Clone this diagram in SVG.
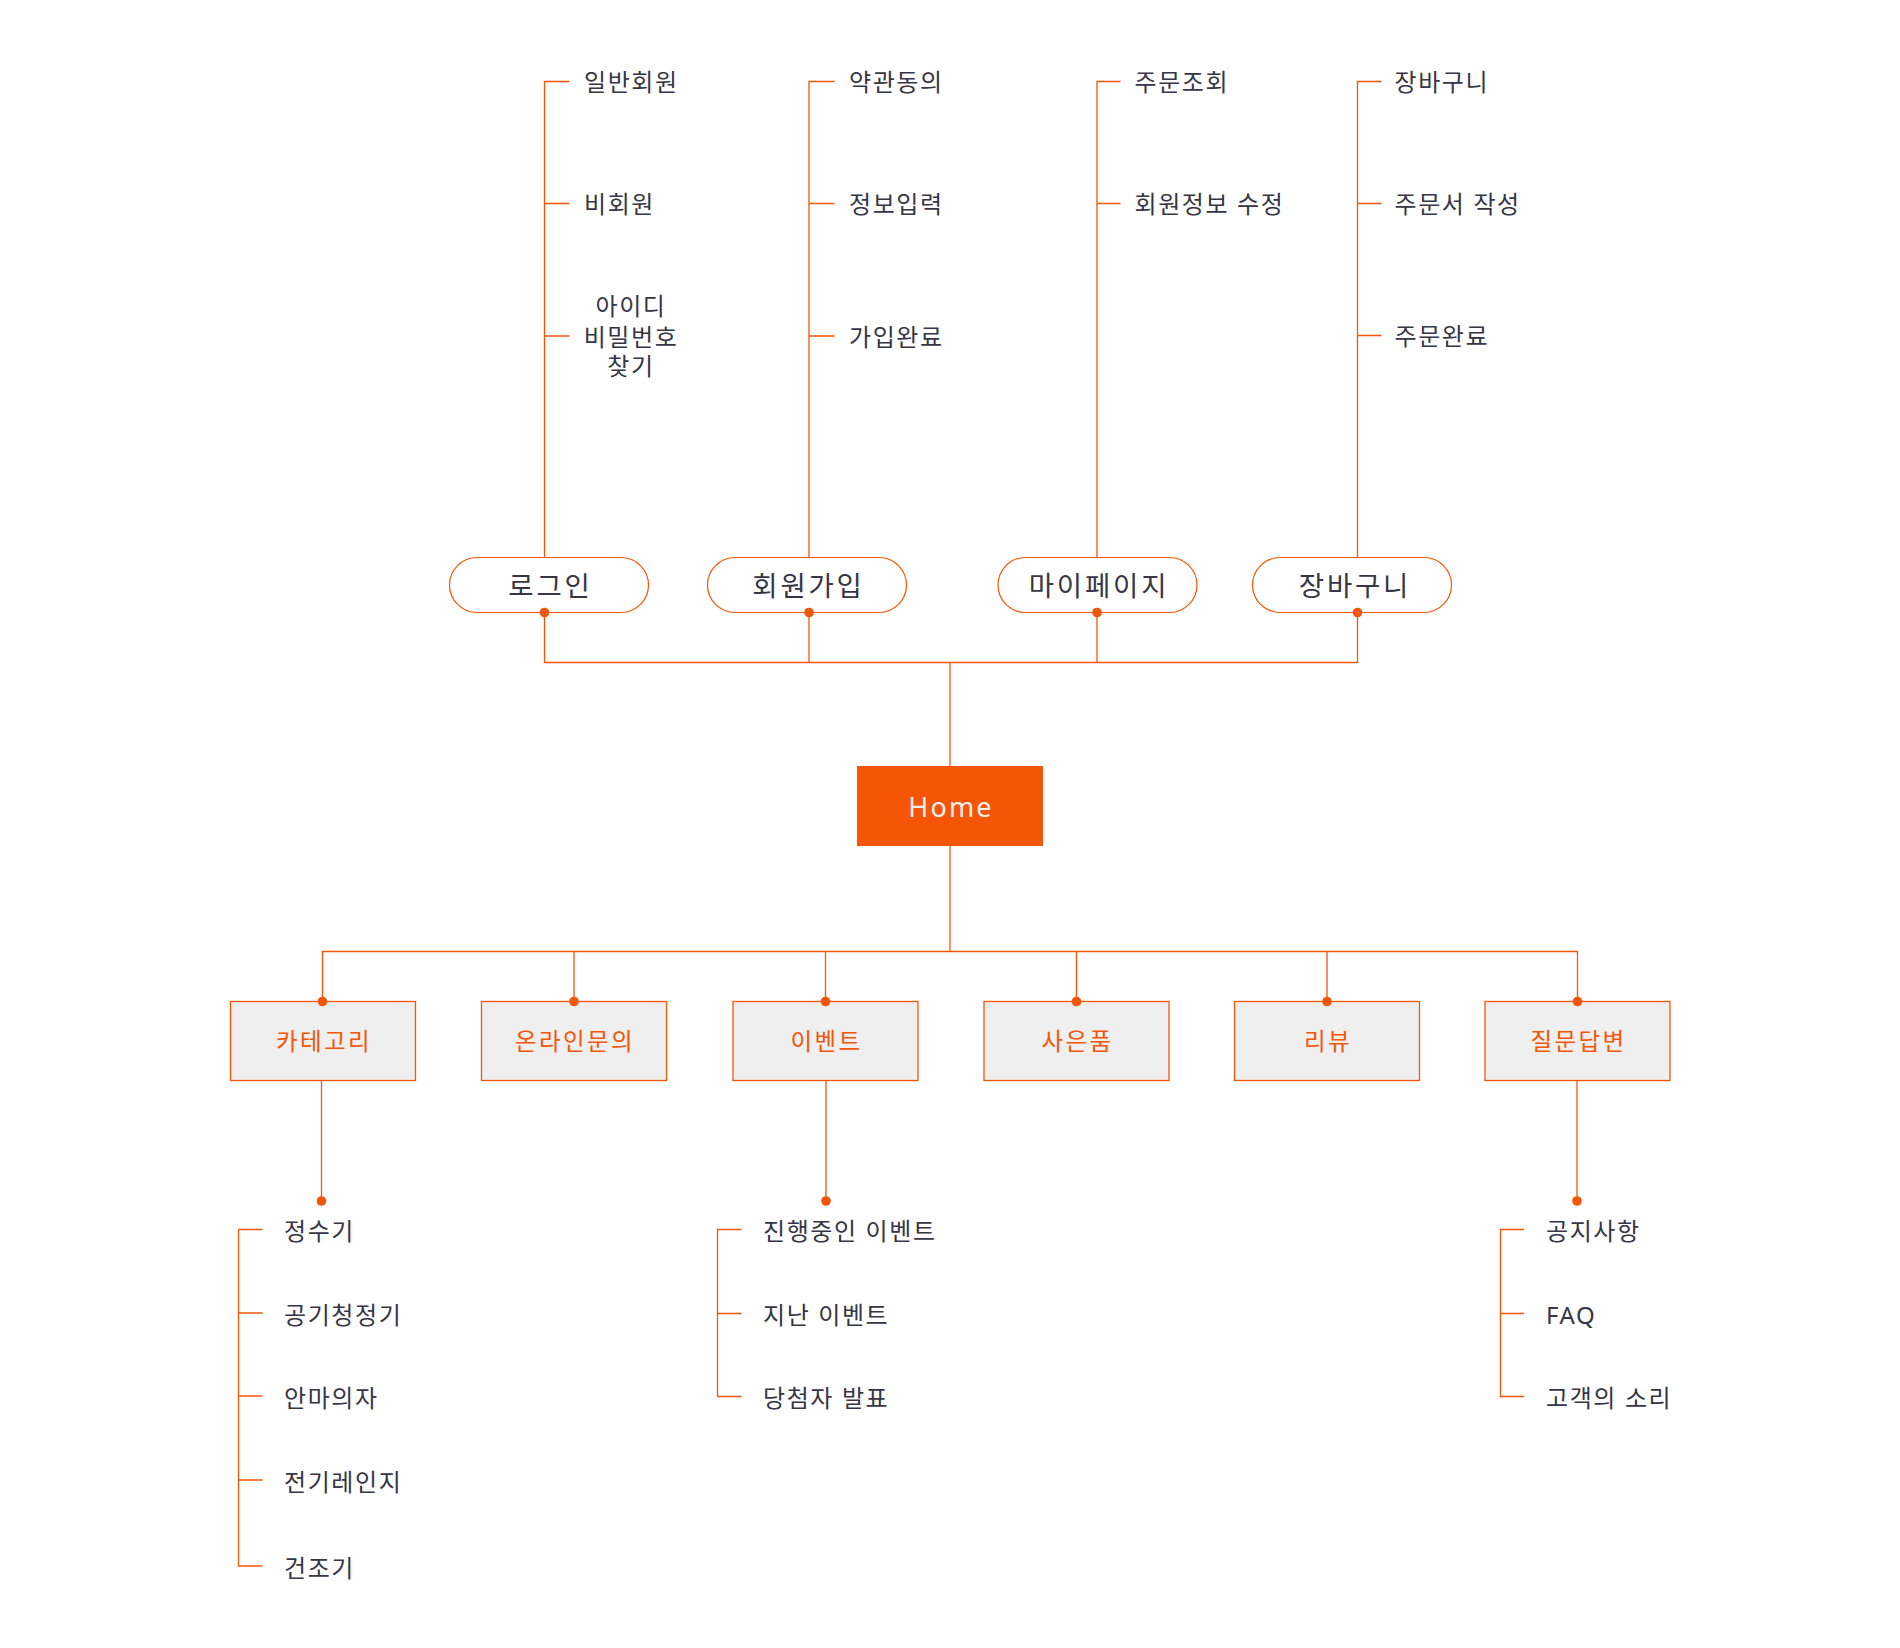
<svg xmlns="http://www.w3.org/2000/svg" width="1900" height="1648" viewBox="0 0 1900 1648">
<defs>
<style>
.ln{fill:none;stroke:#f45606;stroke-width:1.3}
.dot{fill:#f45606}
.pill{fill:#ffffff;stroke:#f45606;stroke-width:1.2}
.box{fill:#efefef;stroke:#f45606;stroke-width:1.3}
.home{fill:#f45606}
text{font-family:"Noto Sans","Noto Sans CJK KR",sans-serif;dominant-baseline:central}
.leaf{font-size:24px;fill:#363644;letter-spacing:1.6px}
.ptxt{font-size:27.5px;fill:#363644;text-anchor:middle;letter-spacing:2.8px}
.btxt{font-size:23.5px;fill:#f45606;text-anchor:middle;letter-spacing:2.4px}
.htxt{font-size:27px;fill:#f0f0f0;text-anchor:middle;letter-spacing:2.2px}
.mid{text-anchor:middle}
</style>
</defs>
<rect width="1900" height="1648" fill="#ffffff"/>
<g id="connectors">
<path class="ln" d="M569.5 81.5H544.5V557.5M544.5 203.5H569.5M544.5 336H569.5"/>
<path class="ln" d="M834.5 81.5H809V557.5M809 203.5H834.5M809 336H834.5"/>
<path class="ln" d="M1120.5 81.5H1097V557.5M1097 203.5H1120.5"/>
<path class="ln" d="M1381.5 81.5H1357.5V557.5M1357.5 203.5H1381.5M1357.5 335.5H1381.5"/>
<path class="ln" d="M544.5 612.5V662.5H1357.5V612.5M809 612.5V662.5M1097 612.5V662.5M950 662.5V766"/>
<path class="ln" d="M950 846V951.5M322.5 1001.5V951.5H1577.5V1001.5M574 951.5V1001.5M825.5 951.5V1001.5M1076.5 951.5V1001.5M1327 951.5V1001.5"/>
<path class="ln" d="M321.5 1080.5V1201M826 1080.5V1201M1577 1080.5V1201"/>
<path class="ln" d="M262.5 1229.5H238.5V1566H262.5M238.5 1313H262.5M238.5 1396H262.5M238.5 1480H262.5"/>
<path class="ln" d="M741.5 1229.5H717.5V1396.5H741.5M717.5 1313.5H741.5"/>
<path class="ln" d="M1524 1229.5H1500.5V1396.5H1524M1500.5 1313.5H1524"/>
</g>
<g id="home"><rect class="home" x="857" y="766" width="186" height="80"/><text class="htxt" x="951" y="806">Home</text></g>
<g id="login"><rect class="pill" x="449.5" y="557.5" width="199" height="55" rx="27.5"/><text class="ptxt" x="550.5" y="585.5">로그인</text></g>
<g id="join"><rect class="pill" x="707.5" y="557.5" width="199" height="55" rx="27.5"/><text class="ptxt" x="808.5" y="585.5">회원가입</text></g>
<g id="mypage"><rect class="pill" x="998" y="557.5" width="199" height="55" rx="27.5"/><text class="ptxt" x="1099" y="585.5">마이페이지</text></g>
<g id="cart"><rect class="pill" x="1252.5" y="557.5" width="199" height="55" rx="27.5"/><text class="ptxt" x="1355" y="585.5">장바구니</text></g>
<g id="login-items">
<text class="leaf" x="584" y="81.5">일반회원</text>
<text class="leaf" x="584" y="203.5">비회원</text>
<text class="leaf mid" x="631" y="305.5">아이디</text>
<text class="leaf mid" x="631" y="336">비밀번호</text>
<text class="leaf mid" x="631" y="365.5">찾기</text>
</g>
<g id="join-items">
<text class="leaf" x="849" y="81.5">약관동의</text>
<text class="leaf" x="849" y="203.5">정보입력</text>
<text class="leaf" x="849" y="336">가입완료</text>
</g>
<g id="mypage-items">
<text class="leaf" x="1134.5" y="81.5">주문조회</text>
<text class="leaf" x="1134.5" y="203.5">회원정보 수정</text>
</g>
<g id="cart-items">
<text class="leaf" x="1394.5" y="81.5">장바구니</text>
<text class="leaf" x="1394.5" y="203.5">주문서 작성</text>
<text class="leaf" x="1394.5" y="335.5">주문완료</text>
</g>
<g id="category"><rect class="box" x="230.5" y="1001.5" width="185" height="79"/><text class="btxt" x="324" y="1041">카테고리</text></g>
<g id="online"><rect class="box" x="481.5" y="1001.5" width="185" height="79"/><text class="btxt" x="575" y="1041">온라인문의</text></g>
<g id="event"><rect class="box" x="733" y="1001.5" width="185" height="79"/><text class="btxt" x="826.5" y="1041">이벤트</text></g>
<g id="gift"><rect class="box" x="984" y="1001.5" width="185" height="79"/><text class="btxt" x="1077.5" y="1041">사은품</text></g>
<g id="review"><rect class="box" x="1234.5" y="1001.5" width="185" height="79"/><text class="btxt" x="1328" y="1041">리뷰</text></g>
<g id="qna"><rect class="box" x="1485" y="1001.5" width="185" height="79"/><text class="btxt" x="1578.5" y="1041">질문답변</text></g>
<g id="category-items">
<text class="leaf" x="284" y="1230">정수기</text>
<text class="leaf" x="284" y="1314.5">공기청정기</text>
<text class="leaf" x="284" y="1397">안마의자</text>
<text class="leaf" x="284" y="1481">전기레인지</text>
<text class="leaf" x="284" y="1567">건조기</text>
</g>
<g id="event-items">
<text class="leaf" x="763" y="1230">진행중인 이벤트</text>
<text class="leaf" x="763" y="1314">지난 이벤트</text>
<text class="leaf" x="763" y="1397">당첨자 발표</text>
</g>
<g id="qna-items">
<text class="leaf" x="1546" y="1230">공지사항</text>
<text class="leaf" x="1546" y="1314">FAQ</text>
<text class="leaf" x="1546" y="1397">고객의 소리</text>
</g>
<g id="junction-dots">
<circle class="dot" cx="544.5" cy="612.5" r="4.8"/>
<circle class="dot" cx="809" cy="612.5" r="4.8"/>
<circle class="dot" cx="1097" cy="612.5" r="4.8"/>
<circle class="dot" cx="1357.5" cy="612.5" r="4.8"/>
<circle class="dot" cx="322.5" cy="1001.5" r="4.8"/>
<circle class="dot" cx="574" cy="1001.5" r="4.8"/>
<circle class="dot" cx="825.5" cy="1001.5" r="4.8"/>
<circle class="dot" cx="1076.5" cy="1001.5" r="4.8"/>
<circle class="dot" cx="1327" cy="1001.5" r="4.8"/>
<circle class="dot" cx="1577.5" cy="1001.5" r="4.8"/>
<circle class="dot" cx="321.5" cy="1201" r="4.8"/>
<circle class="dot" cx="826" cy="1201" r="4.8"/>
<circle class="dot" cx="1577" cy="1201" r="4.8"/>
</g>
</svg>
